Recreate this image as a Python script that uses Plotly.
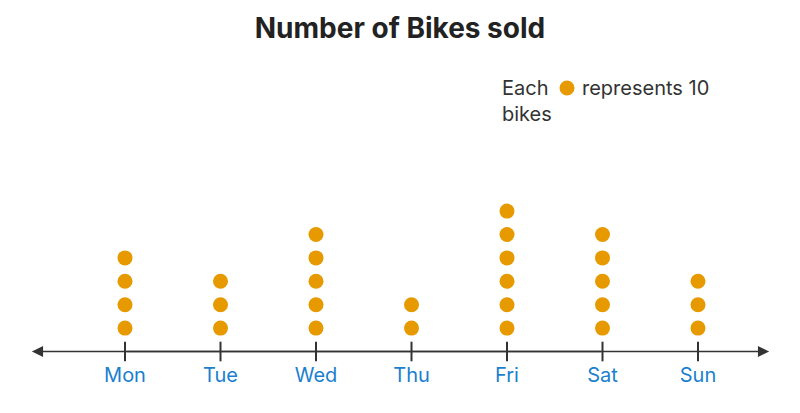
import plotly.graph_objects as go

# Data: number of dots per day (each dot = 10 bikes)
DAYS = ['Mon', 'Tue', 'Wed', 'Thu', 'Fri', 'Sat', 'Sun']
DOTS = [4, 3, 5, 2, 6, 5, 3]
BIKES_PER_DOT = 10

DOT_COLOR = '#E69A00'
AXIS_COLOR = '#333333'
LABEL_COLOR = '#1A7FCF'
FONT = 'Inter, Open Sans, sans-serif'

# page renders the figure with an 8px body offset, compensate for it
OFF = 8
W, H = 800, 413

xs, ys = [], []
for i, n in enumerate(DOTS):
    for k in range(1, n + 1):
        xs.append(i)
        ys.append(k)

fig = go.Figure()

# dots
fig.add_trace(go.Scatter(
    x=xs, y=ys, mode='markers',
    marker=dict(size=15, color=DOT_COLOR, line=dict(width=0)),
    hoverinfo='skip',
))

# tick marks on the number line
idx = list(range(len(DAYS)))
fig.add_trace(go.Scatter(
    x=idx, y=[0] * len(DAYS), mode='markers',
    marker=dict(symbol='line-ns', size=14, line=dict(width=2, color=AXIS_COLOR)),
    hoverinfo='skip',
))

# day labels
fig.add_trace(go.Scatter(
    x=idx, y=[-1.08] * len(DAYS), mode='text', text=DAYS,
    textfont=dict(family=FONT, size=20, color=LABEL_COLOR),
    hoverinfo='skip',
))

# number line with arrows at both ends (overlapping so there is no gap)
left_end, right_end = -0.975, 6.745
for end, tail in ((left_end, 5.0), (right_end, 0.0)):
    fig.add_annotation(
        x=end, y=0, ax=tail, ay=0, xref='x', yref='y', axref='x', ayref='y',
        showarrow=True, arrowhead=2, arrowsize=1.4, arrowwidth=1.6,
        arrowcolor=AXIS_COLOR, text='',
    )


def px(x):
    return (x - OFF) / W


def py(y):
    return 1 - (y - OFF) / H


# key
key_font = dict(family=FONT, size=20, color='#333333')
fig.add_annotation(x=px(500), y=py(88), xref='paper', yref='paper',
                   text='Each', showarrow=False, xanchor='left', yanchor='middle',
                   font=key_font)
fig.add_annotation(x=px(580), y=py(88), xref='paper', yref='paper',
                   text=f'represents {BIKES_PER_DOT}', showarrow=False,
                   xanchor='left', yanchor='middle', font=key_font)
fig.add_annotation(x=px(500), y=py(114), xref='paper', yref='paper',
                   text='bikes', showarrow=False, xanchor='left', yanchor='middle',
                   font=key_font)
fig.add_shape(type='circle', xref='paper', yref='paper',
              x0=px(559.5), x1=px(574.5), y0=py(95.5), y1=py(80.5),
              fillcolor=DOT_COLOR, line=dict(width=0))

x0_px, y0_px = 125 - OFF, 351.5 - OFF
fig.update_layout(
    width=W, height=H,
    margin=dict(l=0, r=0, t=0, b=0),
    paper_bgcolor='white', plot_bgcolor='white',
    showlegend=False,
    title=dict(text='<b>Number of Bikes sold</b>', x=px(400), xanchor='center',
               y=py(28), yanchor='middle',
               font=dict(family=FONT, size=28, color='#222222')),
    xaxis=dict(range=[-x0_px / 95.5, (W - x0_px) / 95.5], visible=False, fixedrange=True),
    yaxis=dict(range=[-(H - y0_px) / 23.4, y0_px / 23.4], visible=False, fixedrange=True),
)

fig.write_html('out.html')
